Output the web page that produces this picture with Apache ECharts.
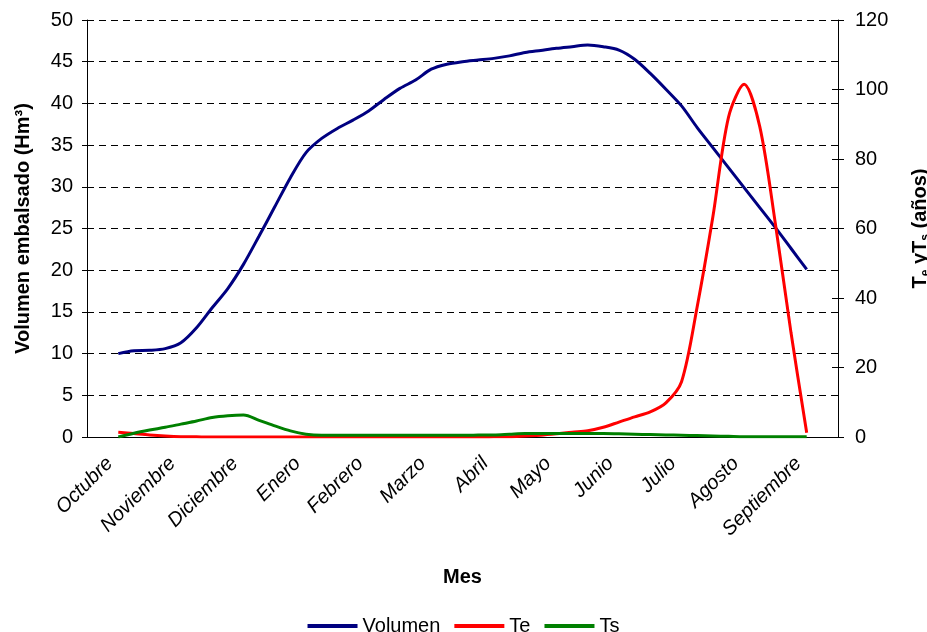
<!DOCTYPE html>
<html>
<head>
<meta charset="utf-8">
<script src="https://cdn.jsdelivr.net/npm/echarts@6/dist/echarts.min.js"></script>
<style>
  html, body { margin: 0; padding: 0; background: #fff; overflow: hidden; }
  #chart { width: 927px; height: 632px; }
</style>
</head>
<body>
<div id="chart"></div>
<script>
// Hydrological year, one category per month
const months = ['Octubre', 'Noviembre', 'Diciembre', 'Enero', 'Febrero', 'Marzo',
                'Abril', 'Mayo', 'Junio', 'Julio', 'Agosto', 'Septiembre'];

// Samples every quarter month, from mid-October (0) to mid-September (11)
const sampleStep = 0.25;

// Stored volume (Hm3), left axis
const volumen = [10.0, 10.35, 10.4, 10.6, 11.3, 13.1, 15.5, 17.8, 20.7, 24.1,
                 27.6, 31.1, 34.1, 35.8, 37.0, 38.0, 39.1, 40.5, 41.8, 42.8,
                 44.1, 44.7, 45.0, 45.2, 45.4, 45.7, 46.1, 46.35, 46.6, 46.8,
                 47.0, 46.8, 46.4, 45.3, 43.6, 41.7, 39.7, 37.1, 34.7, 32.3,
                 29.9, 27.5, 25.1, 22.6, 20.1];

// Te (years), right axis
const te = [1.4, 1.0, 0.6, 0.3, 0.1, 0.05, 0, 0, 0, 0,
            0, 0, 0, 0, 0, 0, 0, 0, 0, 0,
            0, 0, 0, 0, 0.05, 0.1, 0.3, 0.5, 0.9, 1.4,
            1.8, 2.8, 4.3, 5.8, 7.2, 9.8, 15.9, 37.5, 63.3, 92.0,
            101.5, 89.3, 61.3, 29.9, 1.2];

// Ts (years), right axis
const ts = [0, 1.1, 2.0, 2.8, 3.7, 4.6, 5.6, 6.1, 6.3, 4.8,
            3.2, 1.75, 0.8, 0.5, 0.5, 0.5, 0.5, 0.5, 0.5, 0.5,
            0.5, 0.5, 0.5, 0.55, 0.6, 0.8, 1.0, 1.0, 1.0, 1.0,
            1.0, 1.0, 0.9, 0.8, 0.7, 0.6, 0.5, 0.4, 0.3, 0.2,
            0.1, 0.1, 0.1, 0.1, 0.1];

const leftTicks = { min: 0, max: 50, interval: 5 };
const rightTicks = { min: 0, max: 120, interval: 20 };

const withPos = arr => arr.map((v, i) => [i * sampleStep, v]);

const font = 'Liberation Sans, Arial, sans-serif';
const black = '#000';

const chart = echarts.init(document.getElementById('chart'), null, { renderer: 'canvas', width: 927, height: 632 });

chart.setOption({
  backgroundColor: '#fff',
  animation: false,
  textStyle: { fontFamily: font, color: black },
  grid: { left: 87, right: 89, top: 20, bottom: 195, containLabel: false, outerBoundsMode: 'none' },
  legend: {
    data: ['Volumen', 'Te', 'Ts'],
    top: 611,
    left: 'center',
    icon: 'rect',
    itemWidth: 50,
    itemHeight: 4,
    itemGap: 14,
    textStyle: { fontFamily: font, fontSize: 20, color: black }
  },
  xAxis: [
    {
      type: 'category',
      data: months,
      boundaryGap: true,
      name: 'Mes',
      nameLocation: 'middle',
      nameGap: 130,
      nameTextStyle: { fontFamily: font, fontSize: 20, fontWeight: 'bold', color: black },
      axisLine: { onZero: false, lineStyle: { color: black, width: 1 } },
      axisTick: { length: 6, lineStyle: { color: black } },
      axisLabel: {
        rotate: 45,
        margin: 15,
        padding: [0, 12, 0, 0],
        fontFamily: font,
        fontSize: 20,
        fontStyle: 'italic',
        color: black,
        interval: 0
      },
      splitLine: { show: false }
    },
    {
      type: 'value',
      min: -0.5,
      max: 11.5,
      show: false,
      axisLine: { onZero: false }
    }
  ],
  yAxis: [
    {
      type: 'value',
      position: 'left',
      min: leftTicks.min,
      max: leftTicks.max,
      interval: leftTicks.interval,
      name: 'Volumen embalsado (Hm³)',
      nameLocation: 'middle',
      nameRotate: 90,
      nameGap: 54,
      nameTextStyle: { fontFamily: font, fontSize: 20, fontWeight: 'bold', color: black },
      axisLine: { show: true, onZero: false, lineStyle: { color: black, width: 1 } },
      axisTick: { show: true, length: 5, lineStyle: { color: black } },
      axisLabel: { margin: 14, fontFamily: font, fontSize: 20, color: black },
      splitLine: { show: true, lineStyle: { color: black, width: 1, type: [7, 5] } }
    },
    {
      type: 'value',
      position: 'right',
      min: rightTicks.min,
      max: rightTicks.max,
      interval: rightTicks.interval,
      name: '{m|T}{s|e}{m| yT}{s|s}{m| (años)}',
      nameLocation: 'middle',
      nameRotate: 90,
      nameGap: 70,
      nameTextStyle: {
        fontFamily: font,
        color: black,
        rich: {
          m: { fontFamily: font, fontSize: 20, fontWeight: 'bold', color: black, lineHeight: 24 },
          s: { fontFamily: font, fontSize: 12, fontWeight: 'bold', color: black, verticalAlign: 'bottom', lineHeight: 24 }
        }
      },
      axisLine: { show: true, onZero: false, lineStyle: { color: black, width: 1 } },
      axisTick: { show: true, length: 6, lineStyle: { color: black } },
      axisLabel: { margin: 17, fontFamily: font, fontSize: 20, color: black },
      splitLine: { show: false }
    },
    {
      // inner half of the crossing ticks on the right axis
      type: 'value',
      position: 'right',
      min: rightTicks.min,
      max: rightTicks.max,
      interval: rightTicks.interval,
      axisLine: { show: false, onZero: false },
      axisTick: { show: true, inside: true, length: 6, lineStyle: { color: black } },
      axisLabel: { show: false },
      splitLine: { show: false }
    }
  ],
  series: [
    {
      name: 'Volumen',
      type: 'line',
      xAxisIndex: 1,
      yAxisIndex: 0,
      data: withPos(volumen),
      showSymbol: false,
      smooth: 0.3,
      lineStyle: { color: '#000080', width: 3 },
      itemStyle: { color: '#000080' }
    },
    {
      name: 'Te',
      type: 'line',
      xAxisIndex: 1,
      yAxisIndex: 1,
      data: withPos(te),
      showSymbol: false,
      smooth: 0.3,
      lineStyle: { color: '#ff0000', width: 3 },
      itemStyle: { color: '#ff0000' }
    },
    {
      name: 'Ts',
      type: 'line',
      xAxisIndex: 1,
      yAxisIndex: 1,
      data: withPos(ts),
      showSymbol: false,
      smooth: 0.3,
      lineStyle: { color: '#008000', width: 3 },
      itemStyle: { color: '#008000' }
    }
  ]
});
</script>
</body>
</html>
